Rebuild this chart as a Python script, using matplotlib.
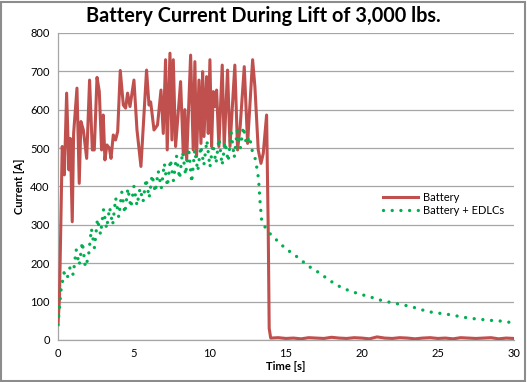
import numpy as np
import matplotlib.pyplot as plt
from matplotlib.patches import Rectangle

plt.rcParams['font.family'] = ['Lato', 'DejaVu Sans']

# --- データ ---
# Battery (solid red)
bat_t = [0.0, 0.1, 0.28, 0.42, 0.57, 0.72, 0.81, 0.94, 1.03, 1.25, 1.4, 1.51, 1.67, 1.89,
         2.08, 2.26, 2.39, 2.57, 2.72, 2.87, 2.98, 3.09, 3.22, 3.38, 3.49, 3.64, 3.79, 3.93,
         4.1, 4.3, 4.45, 4.58, 4.74, 5.0, 5.2, 5.46, 5.83, 5.99, 6.1, 6.32, 6.55, 6.78, 6.93,
         7.08, 7.19, 7.37, 7.5, 7.59, 7.74, 8.07, 8.25, 8.35, 8.47, 8.73, 8.9, 9.01, 9.12,
         9.28, 9.41, 9.52, 9.61, 9.78, 9.89, 10.0, 10.11, 10.22, 10.33, 10.44, 10.59, 10.81,
         10.94, 11.16, 11.32, 11.64, 11.82, 11.99, 12.26, 12.48, 12.81, 12.96, 13.18, 13.36,
         13.51, 13.73, 13.84, 13.9, 14.0, 14.5, 15.0, 15.5, 16.0, 16.5, 17.0, 17.5, 18.0,
         18.5, 19.0, 19.5, 20.0, 20.5, 21.0, 21.5, 22.0, 22.5, 23.0, 23.5, 24.0, 24.5, 25.0,
         25.5, 26.0, 26.5, 27.0, 27.5, 28.0, 28.5, 29.0, 29.5, 30.0]
bat_i = [40, 110, 504, 430, 643, 443, 525, 308, 538, 656, 408, 569, 547, 473,
         677, 495, 495, 684, 647, 495, 586, 469, 508, 500, 473, 534, 521, 543,
         702, 612, 604, 643, 608, 677, 547, 452, 703, 612, 620, 547, 560, 651, 538,
         730, 495, 747, 521, 730, 504, 673, 482, 600, 469, 742, 495, 725, 478,
         677, 512, 699, 530, 686, 538, 730, 504, 647, 608, 651, 504, 716,
         504, 703, 504, 716, 495, 556, 712, 512, 730, 660, 495, 460,
         486, 586, 278, 30, 5, 6, 4, 5, 3, 6, 5, 4, 7,
         5, 4, 6, 5, 3, 8, 5, 4, 6, 5, 3, 5, 6, 4,
         5, 3, 6, 5, 4, 5, 6, 3, 5, 4]

# Battery + EDLCs (green dotted)
cap_t = [0.0, 0.2, 0.4, 0.6, 0.8, 1.0, 1.2, 1.4, 1.6, 1.8, 2.0, 2.2, 2.4, 2.6, 2.8,
         3.0, 3.2, 3.4, 3.6, 3.8, 4.0, 4.2, 4.4, 4.6, 4.8, 5.0, 5.2, 5.4, 5.6, 5.8,
         6.0, 6.2, 6.4, 6.6, 6.8, 7.0, 7.2, 7.4, 7.6, 7.8, 8.0, 8.2, 8.4, 8.6, 8.8,
         9.0, 9.2, 9.4, 9.6, 9.8, 10.0, 10.2, 10.4, 10.6, 10.8, 11.0, 11.2, 11.4, 11.6,
         11.8, 12.0, 12.2, 12.4, 12.6, 12.8, 13.0, 13.2, 13.3, 13.4, 13.6, 13.8, 14.0,
         14.5, 15.0, 15.5, 16.0, 16.5, 17.0, 17.5, 18.0, 18.5, 19.0, 19.5, 20.0, 20.5,
         21.0, 21.5, 22.0, 22.5, 23.0, 23.5, 24.0, 24.5, 25.0, 25.5, 26.0, 26.5, 27.0,
         27.5, 28.0, 28.5, 29.0, 29.5, 30.0]
cap_i = [40, 130, 175, 160, 190, 170, 235, 195, 255, 190, 215, 290, 240, 315, 275,
         340, 290, 345, 300, 370, 320, 385, 330, 395, 345, 400, 350, 395, 360, 420,
         370, 430, 385, 440, 395, 460, 400, 470, 415, 480, 420, 490, 430, 500, 410,
         495, 440, 505, 455, 520, 450, 510, 460, 525, 455, 515, 465, 540, 475,
         545, 500, 555, 510, 530, 490, 470, 420, 360, 313, 296, 284, 275,
         256, 237, 224, 208, 192, 180, 166, 152, 140, 131, 124, 118, 113,
         106, 101, 97, 93, 89, 84, 78, 73, 70, 68, 64, 61, 57,
         55, 53, 51, 50, 47, 45]

y_ticks = [0, 100, 200, 300, 400, 500, 600, 700, 800]
x_ticks = [0, 5, 10, 15, 20, 25, 30]

fig = plt.figure(figsize=(5.27, 3.82), dpi=100)
ax = fig.add_axes([0.110, 0.110, 0.865, 0.804])

ax.plot(bat_t, bat_i, color='#C0504D', lw=2.2, label='Battery', zorder=3)
ax.plot(cap_t, cap_i, color='#00B050', lw=2.4, linestyle=(0, (0.01, 2.6)),
        dash_capstyle='round', label='Battery + EDLCs', zorder=4)

ax.set_xlim(0, 30)
ax.set_ylim(0, 800)
ax.set_xticks(x_ticks)
ax.set_yticks(y_ticks)
ax.tick_params(length=0, labelsize=8, pad=6)
ax.grid(axis='y', color='#A6A6A6', lw=0.9)
ax.set_axisbelow(True)
for s in ['top', 'right']:
    ax.spines[s].set_visible(False)
for s in ['left', 'bottom']:
    ax.spines[s].set_color('#A6A6A6')
    ax.spines[s].set_linewidth(0.9)

ax.set_xlabel('Time [s]', fontsize=8, fontweight='bold', labelpad=1)
ax.set_ylabel('Current [A]', fontsize=8, fontweight='bold', labelpad=4)
fig.suptitle('Battery Current During Lift of 3,000 lbs.', fontsize=14.3,
             fontweight='bold', y=0.985)

ax.legend(loc='upper left', bbox_to_anchor=(0.69, 0.515), frameon=False,
          fontsize=8, handlelength=3.2, handletextpad=0.4, labelspacing=0.2)

fig.patches.append(Rectangle((0.002, 0.003), 0.995, 0.993, transform=fig.transFigure,
                             fill=False, edgecolor='#8C8C8C', lw=1.5))

plt.savefig('out.png', dpi=100)
